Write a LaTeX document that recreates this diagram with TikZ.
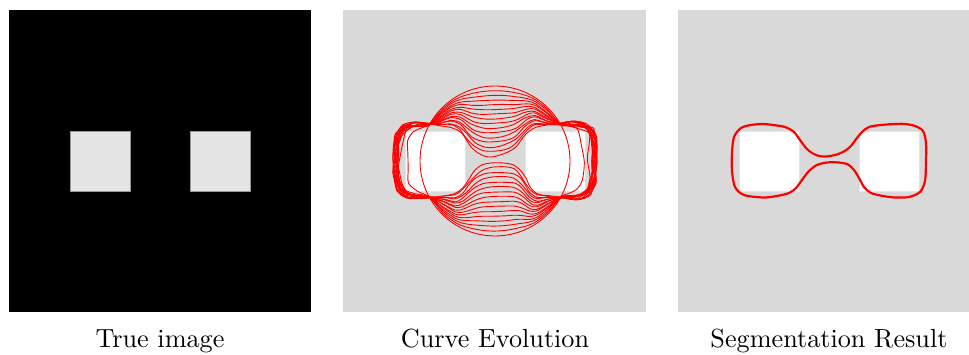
\documentclass[tikz,border=0pt]{standalone}
\begin{document}
\begin{tikzpicture}[x=1pt,y=1pt]
\definecolor{panelgray}{RGB}{217,217,217}
\definecolor{sqgray}{RGB}{229,229,229}
\definecolor{sqedge}{RGB}{150,150,150}
\tikzset{
  panel/.style={fill=panelgray, draw=none},
  darkpanel/.style={fill=black, draw=none},
  truesq/.style={fill=sqgray, draw=sqedge, line width=0.5pt},
  sq/.style={fill=white, draw=sqgray, line width=0.8pt},
  evo/.style={draw=red, line width=0.9pt},
  seg/.style={draw=red, line width=2.2pt},
  caption/.style={anchor=base, scale=2.62, inner sep=0pt},
}
\useasboundingbox (0,0) rectangle (969,355);
% ---------- panel 1 ----------
\path[darkpanel] (9,43) rectangle (311,345);
\path[truesq] (70,164) rectangle (130,224);
\path[truesq] (190,164) rectangle (250,224);
\node[caption] (cap1) at (160,7) {True image};
% ---------- panel 2 ----------
\path[panel] (343,43) rectangle (646,345);
\path[sq] (405,164) rectangle (465,224);
\path[sq] (525,164) rectangle (585,224);
\node[caption] (cap2) at (495,7) {Curve Evolution};
% ---------- panel 3 ----------
\path[panel] (678,43) rectangle (980,345);
\path[sq] (739,164) rectangle (799,224);
\path[sq] (859,164) rectangle (919,224);
\node[caption] (cap3) at (829,7) {Segmentation Result};
\useasboundingbox (0,0) rectangle (969,355);
% ---------- data ----------
\def\FX{{97,97,94,86,76,66,52,40,33,28,21,14,6,-3,-10,-17,-23,-29,-35,-44,-56,-66,-78,-88,-95,-97,-97,-94,-85,-66,-52,-40,-33,-27,-20,-12,-2,10,19,25,30,35,42,54,66,80,91,96}}
\def\FY{{0,18,30,35,37,37,36,34,29,23,14,9,6,4.5,5,8,13,21,29,34,36,37,36,33,24,8,-10,-26,-34,-36.5,-35,-32,-27,-19,-10,-4,-1.5,-1.5,-3.5,-9,-17,-26,-32,-35,-36.5,-36,-31,-20}}
\def\CA{{0,10.5,16.6,22,26,29,46.1,57.8,63.9,68.1,73.7,79.2,85.4,92.3,97.7,103.1,107.9,112.8,117.8,125.9,138.3,151.6,155.2,159.4,165.8,175.3,185.9,195.5,201.8,208.4,226.1,237.8,243.9,248.9,254.5,260.8,268.5,277.7,284.7,289.5,293.6,297.8,304.1,316.1,331.6,335.8,341.2,348.2}}
\def\SP{{12,12,12,12,8,3,1.5,1,1,1,1,1,1,1,1,1,1,1,1,1,1.5,3,8,12,12,12,12,12,8,3,1.5,1,1,1,1,1,1,1,1,1,1,1,1,1.5,3,8,12,12}}
\gdef\clist{}
\gdef\flist{}
\foreach \i in {0,...,47}{\xdef\clist{\clist (c-\i)}\xdef\flist{\flist (f-\i)}}
% ---------- curve evolution ----------
\begin{scope}[shift={(495,194)}]
\draw[evo] (0,0) circle (75);
\foreach \j in {1,...,15}{
  \pgfmathsetmacro\tval{\j/15}
  \foreach \i in {0,...,47}{
    \pgfmathsetmacro\pval{\SP[\i]}
    \pgfmathsetmacro\fxv{\FX[\i]}
    \pgfmathsetmacro\fyv{\FY[\i]}
    \pgfmathsetmacro\cav{\CA[\i]}
    \pgfmathsetmacro\bval{max(1-\tval,0.001)}
    \pgfmathsetmacro\wval{1-\bval^\pval}
    \pgfmathsetmacro\aval{(0.4+0.2*\pval)*\wval}
    \pgfmathsetmacro\gval{1+0.025*(\pval>5)*\wval}
    \pgfmathsetmacro\pxv{(1-\wval)*75*cos(\cav)+\wval*\gval*\fxv+\aval*sin(97*\i+131*\j)}
    \pgfmathsetmacro\pyv{(1-\wval)*75*sin(\cav)+\wval*\gval*\fyv+\aval*cos(61*\i+173*\j)}
    \coordinate (c-\i) at (\pxv,\pyv);
  }
  \edef\tempdraw{\noexpand\draw[evo] plot[smooth cycle] coordinates {\clist};}
  \tempdraw
}
\end{scope}
% ---------- segmentation result ----------
\begin{scope}[shift={(829,194)}]
\foreach \i in {0,...,47}{
  \pgfmathsetmacro\fxv{\FX[\i]}
  \pgfmathsetmacro\fyv{\FY[\i]}
  \coordinate (f-\i) at (\fxv,\fyv);
}
\edef\tempdraw{\noexpand\draw[seg] plot[smooth cycle] coordinates {\flist};}
\tempdraw
\end{scope}
\end{tikzpicture}
\end{document}
